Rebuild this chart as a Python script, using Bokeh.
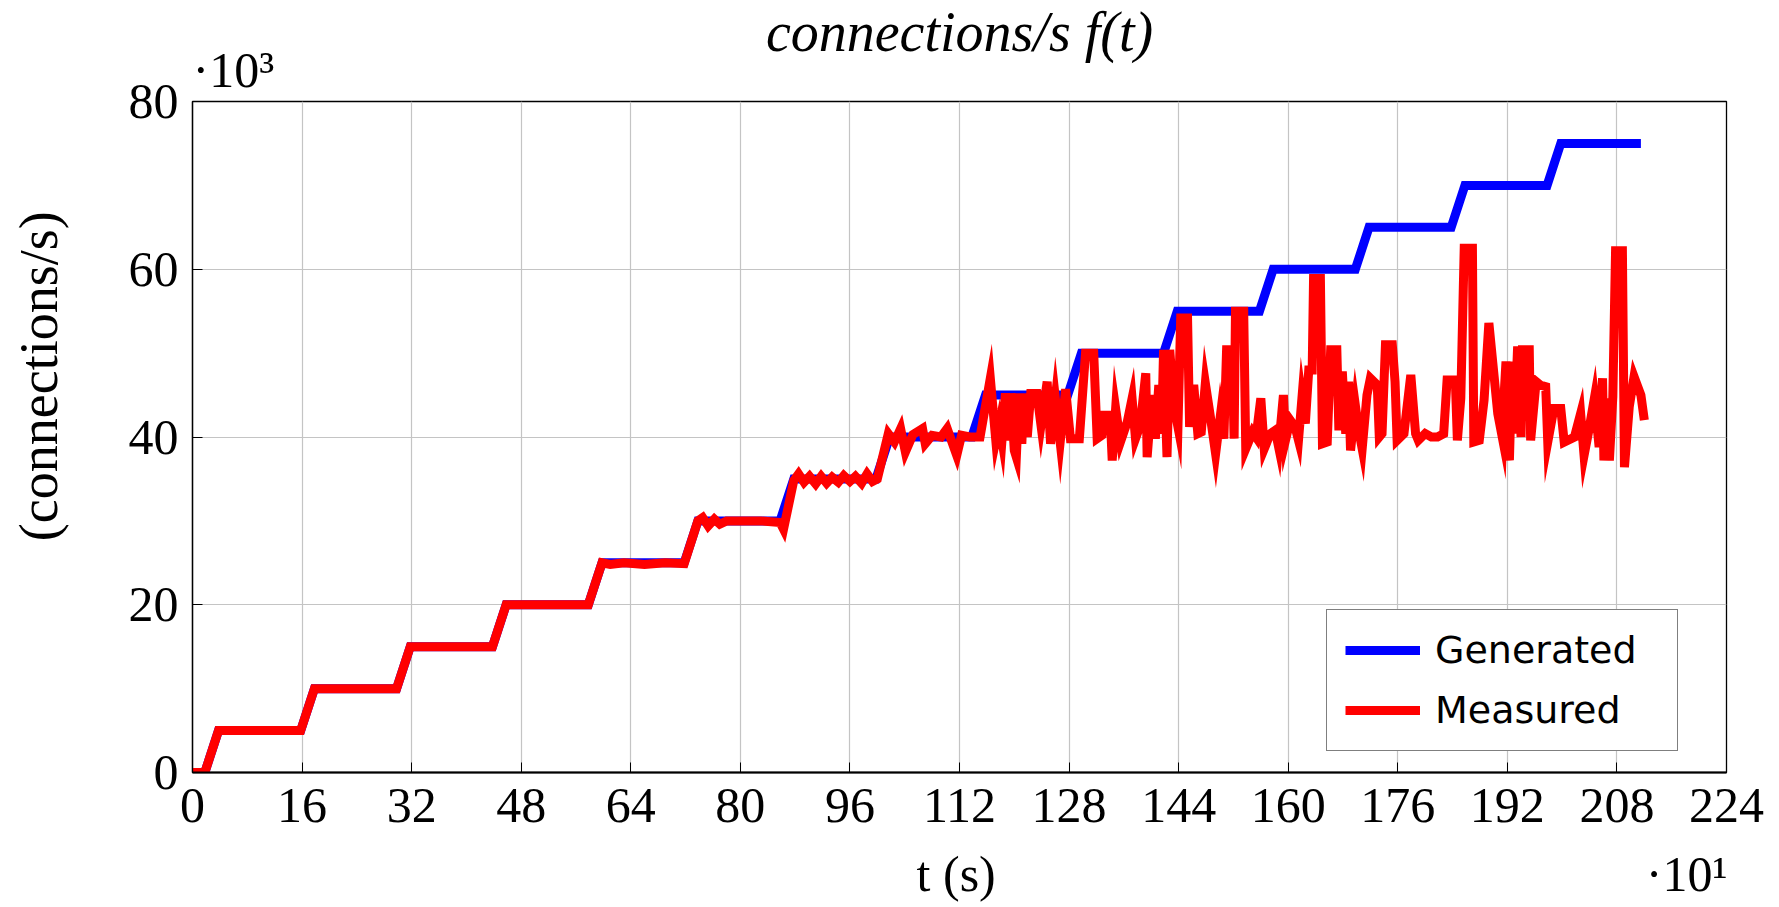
from bokeh.plotting import figure
from bokeh.models import FixedTicker, Legend, LegendItem, Title
from bokeh.embed import file_html
from bokeh.resources import INLINE

# ---- data (t in units of 10 s, rate in thousands of connections/s) ----
x_ticks = [0, 16, 32, 48, 64, 80, 96, 112, 128, 144, 160, 176, 192, 208, 224]
y_ticks = [0, 20, 40, 60, 80]

gen_t = [0, 1.8, 3.8, 15.8, 17.8, 29.8, 31.8, 43.8, 45.8, 57.8, 59.8, 71.8, 73.8,
         85.8, 87.8, 99.8, 101.8, 113.8, 115.8, 127.8, 129.8, 141.8, 143.8,
         155.8, 157.8, 169.8, 171.8, 183.8, 185.8, 197.8, 199.8, 211.5]
gen_y = [0, 0, 5, 5, 10, 10, 15, 15, 20, 20, 25, 25, 30, 30, 35, 35, 40, 40,
         45, 45, 50, 50, 55, 55, 60, 60, 65, 65, 70, 70, 75, 75]

meas_t = [0, 1.8, 3.8, 15.8, 17.8, 29.8, 31.8, 43.8, 45.8, 57.8, 59.8, 61, 63, 66, 69,
          71.8, 73.8, 74.5, 75.3, 76.2, 77, 78, 80, 83, 85.8, 86.3, 87.8, 88.5, 89.3,
          90.1, 91, 91.8, 92.6, 93.4, 94.3, 95.1, 96, 96.8, 97.7, 98.5, 99.3, 100,
          101.6, 102.5, 103.4, 104.1, 105.2, 106.6, 107, 108, 109.3, 110.2, 111.6,
          112.3, 113.5, 115, 116.5, 117.3, 117.8, 118.2, 118.7, 119.2, 119.5, 120.0,
          120.3, 120.7, 121.1, 121.4, 121.9, 122.4, 123.3, 123.9, 124.8, 125.3, 126.0,
          126.7, 127.5, 128.2, 129.5, 130.4, 131.6, 132.1, 132.8, 133.1, 134.0, 134.3,
          134.8, 135.5, 136.5, 137.2, 137.7, 138.4, 139.2, 139.4, 140.1, 140.6, 141.1,
          141.5, 141.8, 142.3, 142.7, 143.3, 143.9, 144.3, 145.3, 145.6, 146.2, 146.8,
          147.3, 147.9, 148.6, 149.4, 150.1, 150.6, 151.0, 151.8, 152.1, 152.3, 153.5,
          153.8, 154.8, 155.3, 156.0, 156.5, 157.4, 158.1, 158.6, 159.3, 159.6, 160.3,
          161.0, 161.5, 162.0, 162.5, 163.0, 163.5, 163.7, 164.7, 165.0, 165.7, 166.2,
          167.1, 167.4, 167.9, 168.4, 168.8, 169.1, 169.8, 170.3, 170.8, 171.5, 172.0,
          173.0, 173.3, 173.7, 174.2, 175.2, 175.6, 175.9, 176.9, 177.9, 178.6, 179.0,
          180.0, 180.9, 181.8, 182.7, 183.2, 184.4, 184.7, 185.2, 185.7, 186.9, 187.1,
          187.9, 188.6, 189.3, 190.6, 191.3, 191.5, 191.8, 192.3, 192.7, 193.0, 193.5,
          194.0, 194.2, 195.2, 195.4, 196.2, 196.8, 197.6, 197.9, 198.8, 199.8, 200.3,
          201.8, 202.7, 203.2, 203.9, 204.7, 205.4, 205.9, 206.1, 206.6, 206.9, 207.4,
          207.8, 208.8, 209.1, 209.8, 210.5, 211.5, 212.0]
meas_y = [0, 0, 5, 5, 10, 10, 15, 15, 20, 20, 25, 24.8, 25, 24.8, 25,
          24.9, 30, 30.4, 29.4, 30.2, 29.6, 30, 30, 30, 29.8, 29.0, 34.8, 35.6, 34.6,
          35.3, 34.4, 35.3, 34.5, 35.2, 34.6, 35.4, 34.7, 35.3, 34.5, 35.6, 34.7, 35.0,
          40.4, 39.4, 41.0, 38.2, 40.3, 41.0, 39.2, 40.2, 40.0, 41.0, 37.8,
          40.2, 40.0, 40.0, 47.0, 39.6, 41.6, 39.6, 45.2, 39.6, 45.2, 38.4,
          37.6, 45.2, 39.2, 45.2, 40.0, 45.2, 45.2, 41.4, 46.6, 39.2, 44.6,
          39.4, 45.7, 39.8, 39.8, 50.0, 50.0, 39.8, 40.2, 42.6, 42.6, 37.2,
          43.4, 39.4, 41.8, 44.6, 39.8, 41.4, 47.6, 37.6, 45.0, 39.8, 46.2,
          40.4, 50.4, 37.6, 50.4, 43.8, 41.2, 54.2, 54.2, 41.2, 46.2, 40.4,
          40.6, 46.4, 42.6, 38.0, 42.6, 39.8, 50.4, 50.4, 39.8, 55.0, 55.0,
          38.6, 40.6, 40.0, 44.6, 38.6, 40.4, 40.8, 38.8, 45.0, 39.6, 42.0,
          41.2, 39.6, 44.6, 41.6, 48.0, 48.0, 58.9, 58.9, 39.2, 39.4, 50.4,
          50.4, 40.8, 47.8, 40.4, 46.6, 38.4, 43.8, 40.8, 38.6, 45.0, 47.0,
          46.2, 40.0, 40.4, 51.0, 51.0, 46.6, 39.6, 40.4, 47.4, 40.4, 39.6,
          40.4, 40.0, 40.0, 40.4, 46.8, 46.8, 39.6, 44.6, 62.5, 62.5, 39.4,
          39.6, 44.4, 53.6, 42.8, 39.8, 44.6, 49.0, 37.2, 49.0, 40.4, 50.8,
          40.0, 50.4, 50.4, 39.6, 46.6, 46.2, 46.0, 39.4, 43.4, 43.4, 39.4,
          40.0, 42.8, 37.8, 40.8, 44.6, 38.8, 47.0, 37.2, 44.6, 37.2, 44.8,
          62.2, 62.2, 36.4, 43.6, 47.2, 45.0, 42.0]

title_text = "connections/s f(t)"
y_scale_text = "·10³"
x_scale_text = "·10¹"
x_label = "t (s)"
y_label = "(connections/s)"

SERIF = "Liberation Serif"
NB = "\u00a0"

p = figure(width=1779, height=907, x_range=(0, 224), y_range=(0, 80),
           output_backend="svg", toolbar_location=None, title=None,
           min_border_left=192, min_border_right=53, min_border_top=101,
           min_border_bottom=135, background_fill_color="white",
           border_fill_color="white")
p.outline_line_color = "black"
p.outline_line_width = 1.3

for ax in (p.xaxis, p.yaxis):
    ax.major_label_text_font = SERIF
    ax.major_label_text_font_size = "50px"
    ax.major_label_text_color = "black"
    ax.axis_line_color = "black"
    ax.axis_line_width = 1.3
    ax.major_tick_in = 10
    ax.major_tick_out = 0
    ax.major_tick_line_color = "black"
    ax.minor_tick_line_color = None
    ax.axis_label_text_font = SERIF
    ax.axis_label_text_font_style = "normal"
    ax.axis_label_text_color = "black"
p.xaxis.ticker = FixedTicker(ticks=x_ticks)
p.yaxis.ticker = FixedTicker(ticks=y_ticks)
p.xaxis.major_label_standoff = 16
p.yaxis.major_label_standoff = 14
p.xaxis.axis_line_width = 2

# x label with the ·10¹ scale note on the same line at the right end
p.xaxis.axis_label = NB * 58 + x_label + NB * 52 + x_scale_text
p.xaxis.axis_label_text_font_size = "50px"
p.xaxis.axis_label_standoff = 21
# y label, shifted upward as in the reference
p.yaxis.axis_label = NB * 9 + y_label
p.yaxis.axis_label_text_font_size = "54px"
p.yaxis.axis_label_standoff = 57

p.xgrid.ticker = FixedTicker(ticks=x_ticks)
p.ygrid.ticker = FixedTicker(ticks=y_ticks)
p.grid.grid_line_color = "#c4c4c4"
p.grid.grid_line_width = 1.2

r_gen = p.line(gen_t, gen_y, line_color="#0000ff", line_width=9, line_join="miter")
r_meas = p.line(meas_t, meas_y, line_color="#ff0000", line_width=9, line_join="miter")

legend = Legend(items=[LegendItem(label="Generated", renderers=[r_gen]),
                       LegendItem(label="Measured", renderers=[r_meas])],
                location=(1134, 21), orientation="vertical",
                label_text_font="DejaVu Sans", label_text_font_size="38px",
                label_text_color="black",
                glyph_width=75, glyph_height=40, label_height=40, label_width=224,
                label_standoff=15, padding=18, spacing=16, margin=0,
                border_line_color="black", border_line_width=1.5,
                background_fill_color="white", background_fill_alpha=1.0)
p.add_layout(legend)

# scale note (closest to the frame) and the main title above it
p.add_layout(Title(text=y_scale_text, align="left", offset=0, standoff=8,
                   text_font=SERIF, text_font_size="50px", text_font_style="normal",
                   text_color="black"), "above")
p.add_layout(Title(text=title_text, align="center", standoff=-55,
                   text_font=SERIF, text_font_size="56px", text_font_style="italic",
                   text_line_height=1.5, text_color="black"), "above")

open("out.html", "w").write(file_html(p, INLINE))
